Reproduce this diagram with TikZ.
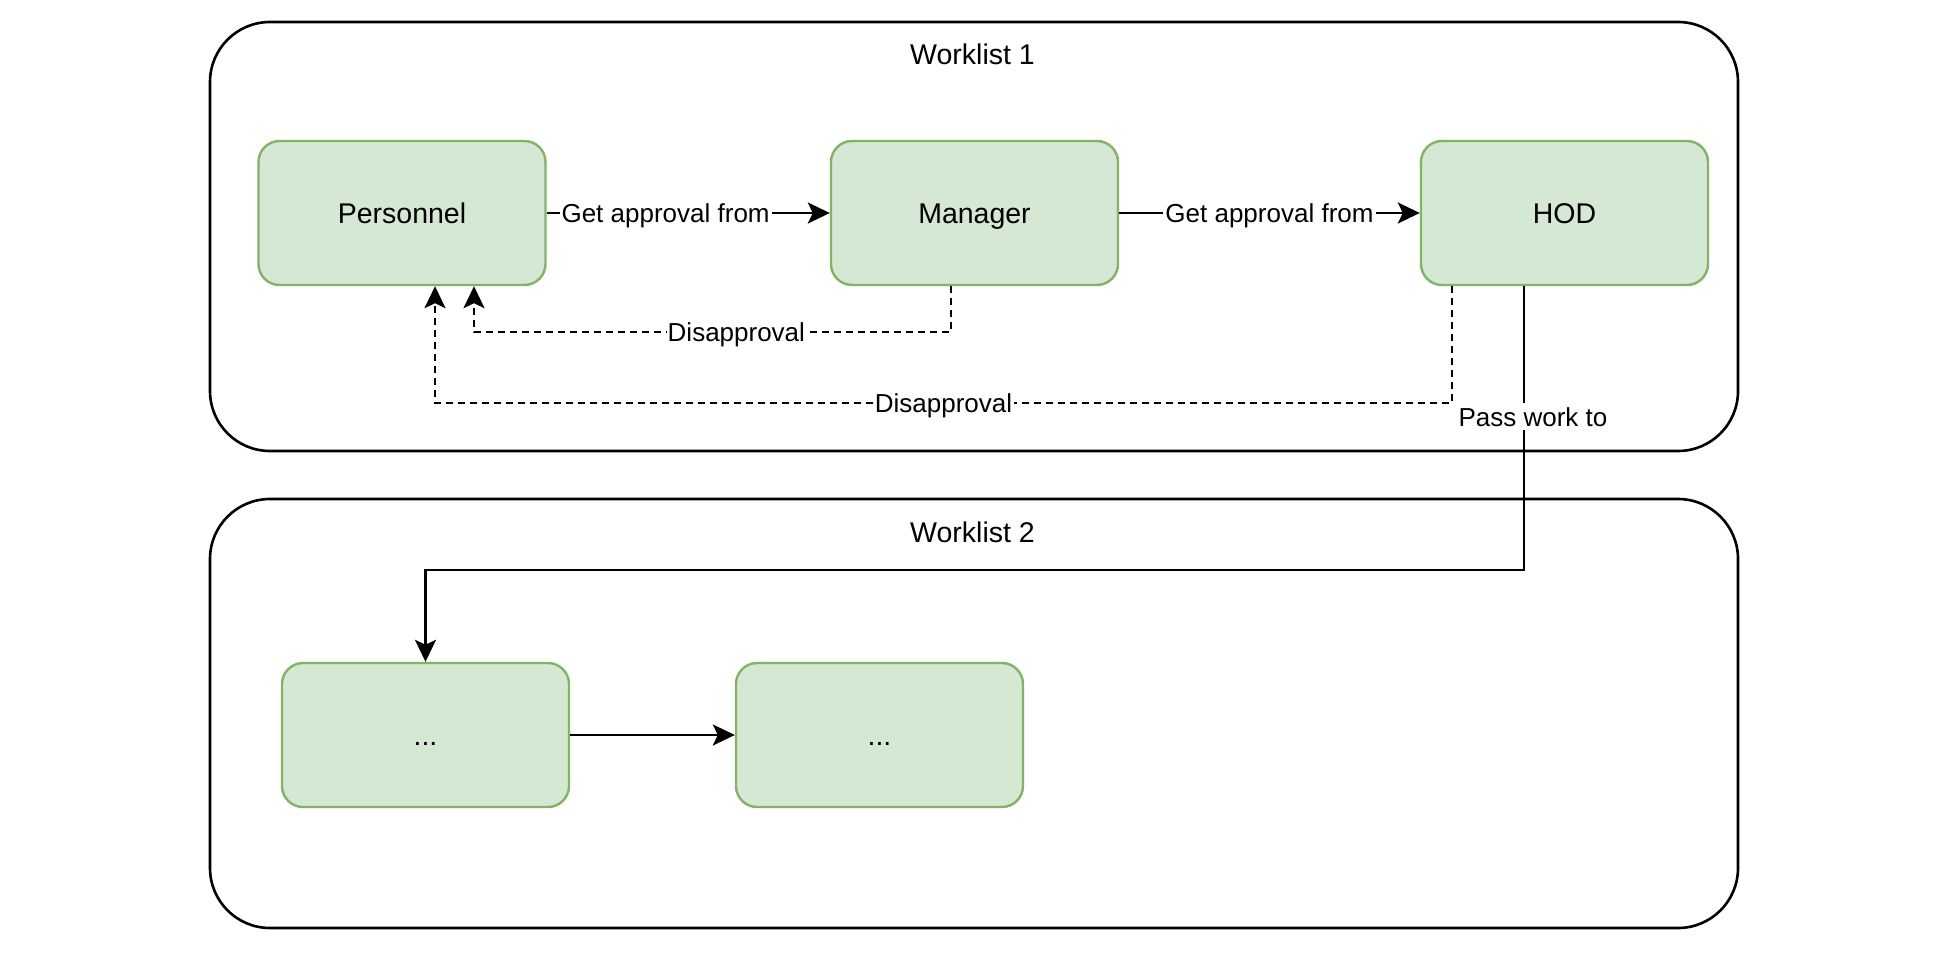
\documentclass[tikz,border=0pt]{standalone}
\usepackage{fontspec}
\setmainfont{Liberation Sans}
\usetikzlibrary{arrows.meta}
\definecolor{gfill}{HTML}{D5E8D4}
\definecolor{gdraw}{HTML}{82B366}
\tikzset{
  txt/.style={font=\fontsize{26}{31}\selectfont, text height=19pt, text depth=0pt},
  bigtxt/.style={font=\fontsize{28.5}{34}\selectfont, text height=20.5pt, text depth=0pt},
  container/.style={draw=black, line width=2.6pt, rounded corners=60pt, minimum width=1528pt, minimum height=429pt, inner sep=0pt},
  stepbox/.style={bigtxt, draw=gdraw, fill=gfill, line width=2.4pt, rounded corners=21pt, minimum width=287pt, minimum height=144pt, inner sep=0pt},
  title/.style={bigtxt, inner sep=0pt},
  lbl/.style={txt, fill=white, inner xsep=2pt, inner ysep=4pt},
  conn/.style={line width=2.4pt, -{Stealth[length=22pt,width=21pt,inset=5pt]}},
  dconn/.style={conn, dash pattern=on 7pt off 5pt},
}
\begin{document}
\begin{tikzpicture}[x=1pt,y=-1pt]
\useasboundingbox (0,0) rectangle (1940,966);
% containers
\node[container] (wl1) at (974,236.5) {};
\node[container] (wl2) at (974,713.5) {};
\node[title] (t1) at (972.5,54) {Worklist 1};
\node[title] (t2) at (972.5,532) {Worklist 2};
% steps
\node[stepbox] (personnel) at (402,213) {Personnel};
\node[stepbox] (manager) at (974.5,213) {Manager};
\node[stepbox] (hod) at (1564.5,213) {HOD};
\node[stepbox] (dotsa) at (425.5,735) {...};
\node[stepbox] (dotsb) at (879.5,735) {...};
% bend points
\coordinate (d1a) at (951,332);
\coordinate (d1b) at (474,332);
\coordinate (d2a) at (1452,403);
\coordinate (d2b) at (435,403);
\coordinate (pa) at (1524,570);
\coordinate (pb) at (425.5,570);
% connectors
\draw[conn] (personnel.east) -- node[lbl,pos=0.42]{Get approval from} (manager.west);
\draw[conn] (manager.east) -- node[lbl,pos=0.5]{Get approval from} (hod.west);
\draw[dconn] (manager.south -| d1a) -- (d1a) -- node[lbl,pos=0.45,inner xsep=1pt]{Disapproval} (d1b) -- (personnel.south -| d1b);
\draw[dconn] (hod.south -| d2a) -- (d2a) -- node[lbl,pos=0.5]{Disapproval} (d2b) -- (personnel.south -| d2b);
\draw[conn] (hod.south -| pa) -- node[lbl,pos=0.46,xshift=9pt]{Pass work to} (pa) -- (pb) -- (dotsa.north);
\draw[conn] (dotsa.east) -- (dotsb.west);
\end{tikzpicture}
\end{document}
